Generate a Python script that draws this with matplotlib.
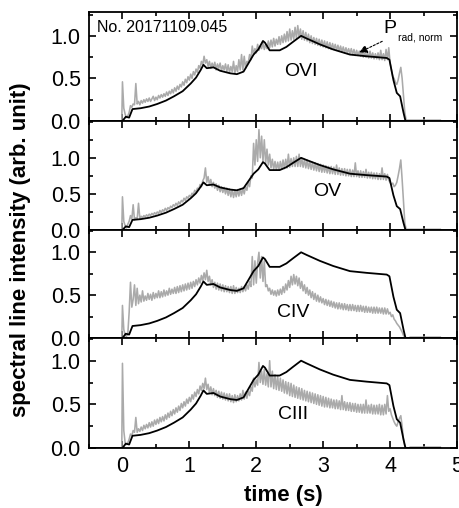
import numpy as np
import matplotlib
matplotlib.use("Agg")
import matplotlib.pyplot as plt
from matplotlib.ticker import MultipleLocator

plt.rcParams['font.family'] = ['Liberation Sans', 'DejaVu Sans']

# ---------------- data ----------------
# normalized radiated power (black line, same in every panel)
t_prad = [-0.5, 0.0, 0.05, 0.1, 0.15, 0.27, 0.4, 0.52, 0.65, 0.77, 0.9, 1.02, 1.1, 1.17, 1.21,
          1.26, 1.36, 1.46, 1.61, 1.71, 1.81, 1.96, 2.03, 2.1, 2.13, 2.2, 2.35, 2.45, 2.55,
          2.67, 2.75, 2.95, 3.15, 3.4, 3.65, 3.95, 3.99, 4.05, 4.1, 4.15, 4.2, 4.23, 4.75]
prad = [0.0, 0.0, 0.05, 0.04, 0.14, 0.15, 0.17, 0.2, 0.24, 0.29, 0.35, 0.44, 0.51, 0.6, 0.66,
        0.62, 0.63, 0.59, 0.56, 0.55, 0.58, 0.78, 0.84, 0.94, 0.92, 0.83, 0.83, 0.87, 0.93,
        1.0, 0.97, 0.9, 0.84, 0.78, 0.76, 0.74, 0.72, 0.48, 0.33, 0.29, 0.1, 0.0, 0.0]

# spectral line sample times (0 ... 4.28 s, step 0.02 s)
t_line = np.round(np.arange(0, 4.29, 0.02), 2)
t_before = [-0.5, -0.01]
v_before = [0.0, 0.0]
t_after = [4.30, 4.75]
v_after = [0.01, 0.01]

ovi = [0.46, 0.15, 0.08, 0.04, 0.06, 0.1, 0.18, 0.16, 0.2, 0.19,
       0.44, 0.2, 0.23, 0.19, 0.24, 0.21, 0.25, 0.22, 0.26, 0.23,
       0.27, 0.23, 0.26, 0.29, 0.24, 0.28, 0.25, 0.3, 0.27, 0.31,
       0.28, 0.32, 0.29, 0.34, 0.3, 0.35, 0.32, 0.37, 0.33, 0.39,
       0.35, 0.41, 0.37, 0.43, 0.4, 0.46, 0.42, 0.49, 0.45, 0.52,
       0.48, 0.55, 0.5, 0.58, 0.54, 0.61, 0.57, 0.65, 0.62, 0.7,
       0.66, 0.76, 0.68, 0.72, 0.64, 0.7, 0.62, 0.68, 0.63, 0.69,
       0.6, 0.67, 0.62, 0.68, 0.59, 0.65, 0.6, 0.67, 0.58, 0.66,
       0.57, 0.64, 0.58, 0.7, 0.56, 0.65, 0.58, 0.72, 0.6, 0.78,
       0.6, 0.76, 0.62, 0.7, 0.68, 0.78, 0.72, 0.88, 0.78, 0.85,
       0.8, 0.9, 0.83, 0.88, 0.85, 0.92, 0.84, 0.9, 0.85, 0.94,
       0.86, 0.95, 0.87, 0.97, 0.88, 0.96, 0.9, 0.99, 0.9, 1.0,
       0.92, 1.02, 0.93, 1.05, 0.94, 1.08, 0.95, 1.06, 0.96, 1.1,
       0.97, 1.12, 0.98, 1.08, 0.96, 1.06, 0.95, 1.04, 0.94, 1.02,
       0.92, 1.0, 0.91, 0.98, 0.9, 0.97, 0.89, 0.96, 0.88, 0.95,
       0.87, 0.94, 0.86, 0.93, 0.85, 0.92, 0.84, 0.91, 0.84, 0.9,
       0.83, 0.89, 0.82, 0.88, 0.81, 0.87, 0.8, 0.86, 0.8, 0.85,
       0.79, 0.85, 0.78, 0.84, 0.77, 0.83, 0.77, 0.82, 0.76, 0.82,
       0.75, 0.81, 0.75, 0.8, 0.74, 0.82, 0.74, 0.8, 0.73, 0.79,
       0.73, 0.8, 0.72, 0.83, 0.72, 0.79, 0.71, 0.84, 0.72, 0.86,
       0.68, 0.6, 0.52, 0.5, 0.45, 0.43, 0.48, 0.56, 0.63, 0.5,
       0.3, 0.1, 0.01, 0.01, 0.01]

ov = [0.46, 0.12, 0.06, 0.03, 0.08, 0.12, 0.2, 0.15, 0.35, 0.14,
      0.17, 0.15, 0.37, 0.16, 0.19, 0.17, 0.2, 0.18, 0.21, 0.19,
      0.22, 0.2, 0.23, 0.21, 0.24, 0.22, 0.25, 0.23, 0.27, 0.24,
      0.28, 0.26, 0.3, 0.27, 0.31, 0.29, 0.33, 0.31, 0.35, 0.33,
      0.37, 0.34, 0.39, 0.36, 0.41, 0.39, 0.44, 0.41, 0.46, 0.44,
      0.48, 0.46, 0.51, 0.49, 0.55, 0.52, 0.58, 0.56, 0.63, 0.6,
      0.68, 0.72, 0.86, 0.66, 0.74, 0.63, 0.7, 0.6, 0.66, 0.58,
      0.64, 0.55, 0.62, 0.53, 0.6, 0.52, 0.59, 0.5, 0.58, 0.48,
      0.57, 0.46, 0.56, 0.45, 0.55, 0.46, 0.56, 0.47, 0.57, 0.48,
      0.58, 0.5, 0.6, 0.55, 0.66, 0.6, 0.75, 0.72, 1.2, 0.9,
      1.25, 0.95, 1.39, 1.0, 1.3, 0.95, 1.25, 0.92, 1.12, 0.9,
      1.05, 0.86, 0.98, 0.84, 0.95, 0.83, 0.94, 0.83, 0.95, 0.84,
      0.97, 0.85, 0.98, 0.86, 1.05, 0.87, 0.99, 0.88, 1.0, 0.88,
      1.02, 0.88, 1.05, 0.88, 0.99, 0.87, 0.98, 0.86, 0.97, 0.85,
      0.95, 0.84, 0.94, 0.83, 0.93, 0.82, 0.92, 0.81, 0.91, 0.8,
      0.9, 0.8, 0.89, 0.79, 0.88, 0.78, 0.88, 0.78, 0.87, 0.77,
      0.9, 0.77, 0.86, 0.76, 0.85, 0.76, 0.85, 0.75, 0.84, 0.75,
      0.84, 0.74, 0.83, 0.74, 0.93, 0.74, 0.82, 0.73, 0.82, 0.73,
      0.81, 0.73, 0.84, 0.72, 0.8, 0.72, 0.8, 0.71, 0.79, 0.71,
      0.79, 0.7, 0.78, 0.7, 0.86, 0.7, 0.78, 0.69, 0.77, 0.69,
      0.66, 0.63, 0.65, 0.6, 0.62, 0.66, 0.75, 0.85, 0.97, 0.7,
      0.4, 0.1, 0.01, 0.01, 0.01]

civ = [0.38, 0.1, 0.03, 0.02, 0.05, 0.3, 0.65, 0.36, 0.45, 0.62,
       0.38, 0.58, 0.4, 0.5, 0.42, 0.55, 0.43, 0.49, 0.44, 0.52,
       0.45, 0.51, 0.44, 0.53, 0.46, 0.52, 0.47, 0.55, 0.47, 0.54,
       0.48, 0.56, 0.49, 0.55, 0.5, 0.58, 0.51, 0.57, 0.52, 0.59,
       0.52, 0.6, 0.53, 0.61, 0.54, 0.62, 0.55, 0.63, 0.56, 0.64,
       0.57, 0.65, 0.58, 0.66, 0.6, 0.68, 0.62, 0.7, 0.64, 0.73,
       0.67, 0.76, 0.68, 0.79, 0.66, 0.72, 0.62, 0.68, 0.59, 0.65,
       0.57, 0.64, 0.56, 0.63, 0.55, 0.62, 0.54, 0.61, 0.54, 0.6,
       0.53, 0.6, 0.52, 0.61, 0.52, 0.59, 0.53, 0.58, 0.53, 0.6,
       0.54, 0.6, 0.55, 0.62, 0.57, 0.66, 0.6, 0.95, 0.62, 0.9,
       0.64, 0.88, 1.0, 0.7, 0.95, 0.66, 0.9, 0.6, 0.62, 0.55,
       0.58, 0.51, 0.56, 0.5, 0.55, 0.49, 0.56, 0.5, 0.57, 0.51,
       0.6, 0.53, 0.63, 0.56, 0.67, 0.59, 0.72, 0.62, 0.74, 0.63,
       0.72, 0.61, 0.7, 0.58, 0.66, 0.55, 0.62, 0.52, 0.59, 0.5,
       0.56, 0.47, 0.54, 0.45, 0.52, 0.43, 0.5, 0.42, 0.48, 0.41,
       0.46, 0.39, 0.45, 0.38, 0.44, 0.37, 0.43, 0.36, 0.42, 0.35,
       0.41, 0.34, 0.41, 0.34, 0.4, 0.33, 0.4, 0.33, 0.39, 0.32,
       0.39, 0.32, 0.39, 0.32, 0.38, 0.31, 0.38, 0.31, 0.38, 0.31,
       0.37, 0.3, 0.37, 0.3, 0.36, 0.3, 0.36, 0.29, 0.36, 0.29,
       0.36, 0.29, 0.35, 0.29, 0.35, 0.28, 0.35, 0.28, 0.34, 0.28,
       0.3, 0.25, 0.27, 0.22, 0.2, 0.17, 0.15, 0.13, 0.1, 0.07,
       0.03, 0.01, 0.0, 0.0, 0.0]

ciii = [0.97, 0.2, 0.06, 0.04, 0.06, 0.1, 0.16, 0.14, 0.2, 0.18,
        0.35, 0.18, 0.22, 0.19, 0.24, 0.2, 0.26, 0.22, 0.27, 0.23,
        0.29, 0.24, 0.3, 0.25, 0.32, 0.27, 0.33, 0.28, 0.35, 0.3,
        0.36, 0.31, 0.38, 0.33, 0.4, 0.35, 0.42, 0.37, 0.44, 0.39,
        0.46, 0.41, 0.48, 0.43, 0.51, 0.46, 0.53, 0.48, 0.56, 0.51,
        0.58, 0.53, 0.61, 0.56, 0.64, 0.59, 0.67, 0.62, 0.71, 0.66,
        0.74, 0.68, 0.8, 0.67, 0.73, 0.63, 0.7, 0.61, 0.68, 0.6,
        0.66, 0.58, 0.65, 0.57, 0.64, 0.56, 0.63, 0.55, 0.62, 0.54,
        0.62, 0.53, 0.6, 0.52, 0.61, 0.53, 0.6, 0.54, 0.62, 0.55,
        0.66, 0.56, 0.64, 0.57, 0.65, 0.6, 0.7, 0.65, 0.8, 0.7,
        0.78, 0.72, 0.98, 0.75, 0.88, 0.73, 0.9, 0.72, 0.85, 0.7,
        1.0, 0.7, 0.88, 0.68, 0.84, 0.67, 0.82, 0.66, 0.8, 0.65,
        0.78, 0.63, 0.76, 0.62, 0.75, 0.6, 0.74, 0.59, 0.72, 0.58,
        0.7, 0.57, 0.69, 0.56, 0.68, 0.55, 0.66, 0.54, 0.65, 0.53,
        0.64, 0.52, 0.63, 0.51, 0.62, 0.5, 0.61, 0.49, 0.6, 0.48,
        0.59, 0.47, 0.58, 0.47, 0.57, 0.46, 0.56, 0.46, 0.55, 0.45,
        0.55, 0.45, 0.54, 0.44, 0.6, 0.44, 0.53, 0.43, 0.52, 0.43,
        0.52, 0.42, 0.51, 0.42, 0.51, 0.41, 0.5, 0.41, 0.5, 0.4,
        0.5, 0.4, 0.55, 0.4, 0.49, 0.4, 0.5, 0.39, 0.49, 0.39,
        0.49, 0.39, 0.5, 0.38, 0.49, 0.38, 0.5, 0.39, 0.6, 0.42,
        0.45, 0.38, 0.34, 0.3, 0.27, 0.25, 0.3, 0.34, 0.37, 0.25,
        0.1, 0.02, 0.0, 0.0, 0.0]

line_names = ['OVI', 'OV', 'CIV', 'CIII']
line_series = [ovi, ov, civ, ciii]
y_tops = [1.28, 1.51, 1.26, 1.26]
label_pos = [(2.67, 0.58), (3.06, 0.53), (2.55, 0.30), (2.55, 0.38)]

for s in line_series:
    assert len(s) == len(t_line), (len(s), len(t_line))

# ---------------- figure ----------------
fig = plt.figure(figsize=(4.59, 5.08), dpi=100)
left, right = 89 / 459, 457 / 459
edges_px = [12, 121, 230, 338, 448]
H = 508.0
axes = []
for i in range(4):
    top = 1 - edges_px[i] / H
    bot = 1 - edges_px[i + 1] / H
    ax = fig.add_axes([left, bot, right - left, top - bot])
    axes.append(ax)

gray = '#aaaaaa'
for i, ax in enumerate(axes):
    t_full = np.concatenate([t_before, t_line, t_after])
    v_full = np.concatenate([v_before, line_series[i], v_after])
    ax.plot(t_full, v_full, color=gray, lw=1.15, zorder=2)
    ax.plot(t_prad, prad, color='black', lw=1.3, zorder=3)
    ax.set_xlim(-0.5, 5.0)
    ax.set_ylim(0, y_tops[i])
    ax.xaxis.set_major_locator(MultipleLocator(1))
    ax.xaxis.set_minor_locator(MultipleLocator(0.5))
    ax.yaxis.set_major_locator(MultipleLocator(0.5))
    ax.yaxis.set_minor_locator(MultipleLocator(0.25))
    ax.tick_params(which='both', direction='in', top=True, right=True, width=1.2)
    ax.tick_params(which='major', length=5)
    ax.tick_params(which='minor', length=3)
    ax.tick_params(axis='y', labelsize=15.5, pad=6)
    ax.tick_params(axis='x', labelsize=15.5, pad=6)
    for sp in ax.spines.values():
        sp.set_linewidth(1.3)
    ax.set_yticks([0.0, 0.5, 1.0])
    ax.set_yticklabels(['0.0', '0.5', '1.0'])
    if i < 3:
        ax.tick_params(axis='x', labelbottom=False)
    lx, ly = label_pos[i]
    ax.text(lx, ly, line_names[i], fontsize=14, ha='center', va='center')

axes[3].set_xticks([0, 1, 2, 3, 4, 5])
axes[3].set_xticklabels(['0', '1', '2', '3', '4', '5'])

a0 = axes[0]
a0.text(-0.38, 1.10, 'No. 20171109.045', fontsize=11.5, ha='left', va='center')
a0.text(3.90, 1.09, 'P', fontsize=14, ha='left', va='center')
a0.text(4.12, 0.98, 'rad, norm', fontsize=7.5, ha='left', va='center')
a0.annotate('', xy=(3.50, 0.79), xytext=(3.92, 0.95),
            arrowprops=dict(arrowstyle='-|>', color='black', lw=0.8, ls=(0, (2, 1.5)),
                            mutation_scale=12))

fig.text(21 / 459, 1 - 250 / H, 'spectral line intensity (arb. unit)', rotation=90,
         fontsize=16, fontweight='bold', ha='center', va='center')
fig.text(283 / 459, 1 - 496 / H, 'time (s)', fontsize=16, fontweight='bold',
         ha='center', va='center')

fig.savefig('out.png', dpi=100)
